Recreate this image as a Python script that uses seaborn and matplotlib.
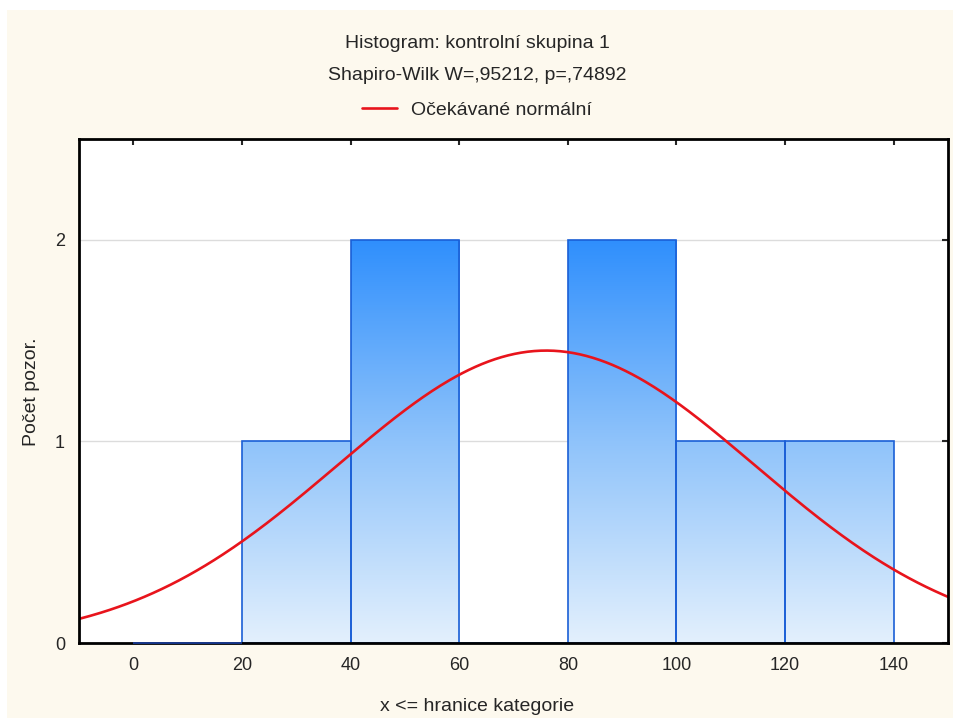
import numpy as np
import seaborn as sns
import matplotlib.pyplot as plt
from matplotlib.patches import Rectangle
from matplotlib.colors import LinearSegmentedColormap

# histogram data
bin_edges = [0, 20, 40, 60, 80, 100, 120, 140]
bin_counts = [0, 1, 2, 0, 2, 1, 1]
bin_centers = [10, 30, 50, 70, 90, 110, 130]

# expected normal parameters (estimated from the red curve)
n_obs = 7
mean_est = 76.0
sd_est = 38.5
bin_width = 20

sns.set_style("white")
plt.rcParams['font.family'] = ['Liberation Sans', 'DejaVu Sans']

fig = plt.figure(figsize=(9.54, 7.22), dpi=100, facecolor='white')
fig.patches.append(Rectangle((7 / 954, 4 / 722), 947 / 954, 708 / 722,
                             transform=fig.transFigure, facecolor='#fdf9ee',
                             edgecolor='none', zorder=-10))
ax = fig.add_axes([0.0828, 0.1094, 0.911, 0.698])
ax.set_facecolor('white')

sns.histplot(x=bin_centers, weights=bin_counts, bins=bin_edges, stat='count',
             ax=ax, edgecolor='#1a5fd6', linewidth=1.2, alpha=1, zorder=2)

# vertical gradient fill for each bar
grad = LinearSegmentedColormap.from_list('g', ['#e3f0fd', '#8fc3fa', '#2f8ffd'])
gimg = np.linspace(0, 1, 256).reshape(-1, 1)
for i, p in enumerate(ax.patches):
    p.set_facecolor('none')
    if p.get_height() > 0:
        im = ax.imshow(gimg, cmap=grad, origin='lower', aspect='auto',
                       extent=[-10, 150, 0, 2], zorder=1.5)
        im.set_clip_path(p)
    elif i == 0:
        # leading empty bin shows as a blue line on the axis
        p.set_zorder(6)
        p.set_clip_on(False)
        p.set_edgecolor('#1a3fa0')

xs = np.linspace(-10, 150, 400)
ys = n_obs * bin_width / (sd_est * np.sqrt(2 * np.pi)) * np.exp(-0.5 * ((xs - mean_est) / sd_est) ** 2)
sns.lineplot(x=xs, y=ys, ax=ax, color='#e8141c', linewidth=1.9, zorder=3,
             label='Očekávané normální')

ax.set_xlim(-10, 150)
ax.set_ylim(0, 2.5)
ax.set_xticks([0, 20, 40, 60, 80, 100, 120, 140])
ax.set_yticks([0, 1, 2])
ax.yaxis.grid(True, color='#dcdcdc', linewidth=1)
ax.set_axisbelow(True)
ax.tick_params(direction='in', length=4, width=1.5, labelsize=13,
               top=True, right=True, pad=10)
for s in ax.spines.values():
    s.set_linewidth(2)
    s.set_color('black')
    s.set_zorder(5)
ax.set_xlabel('')
ax.set_ylabel('')

fig.text(0.5, 0.9404, 'Histogram: kontrolní skupina 1', ha='center', va='center', fontsize=14)
fig.text(0.5, 0.896, 'Shapiro-Wilk W=,95212, p=,74892', ha='center', va='center', fontsize=14)
ax.legend(loc='center', bbox_to_anchor=(0.5, 0.848), bbox_transform=fig.transFigure,
          frameon=False, fontsize=14, handlelength=1.8, handletextpad=0.7)
fig.text(0.5, 0.0208, 'x <= hranice kategorie', ha='center', va='center', fontsize=14)
fig.text(0.0335, 0.458, 'Počet pozor.', ha='center', va='center', rotation=90, fontsize=14)

fig.savefig('out.png', dpi=100, facecolor=fig.get_facecolor())
